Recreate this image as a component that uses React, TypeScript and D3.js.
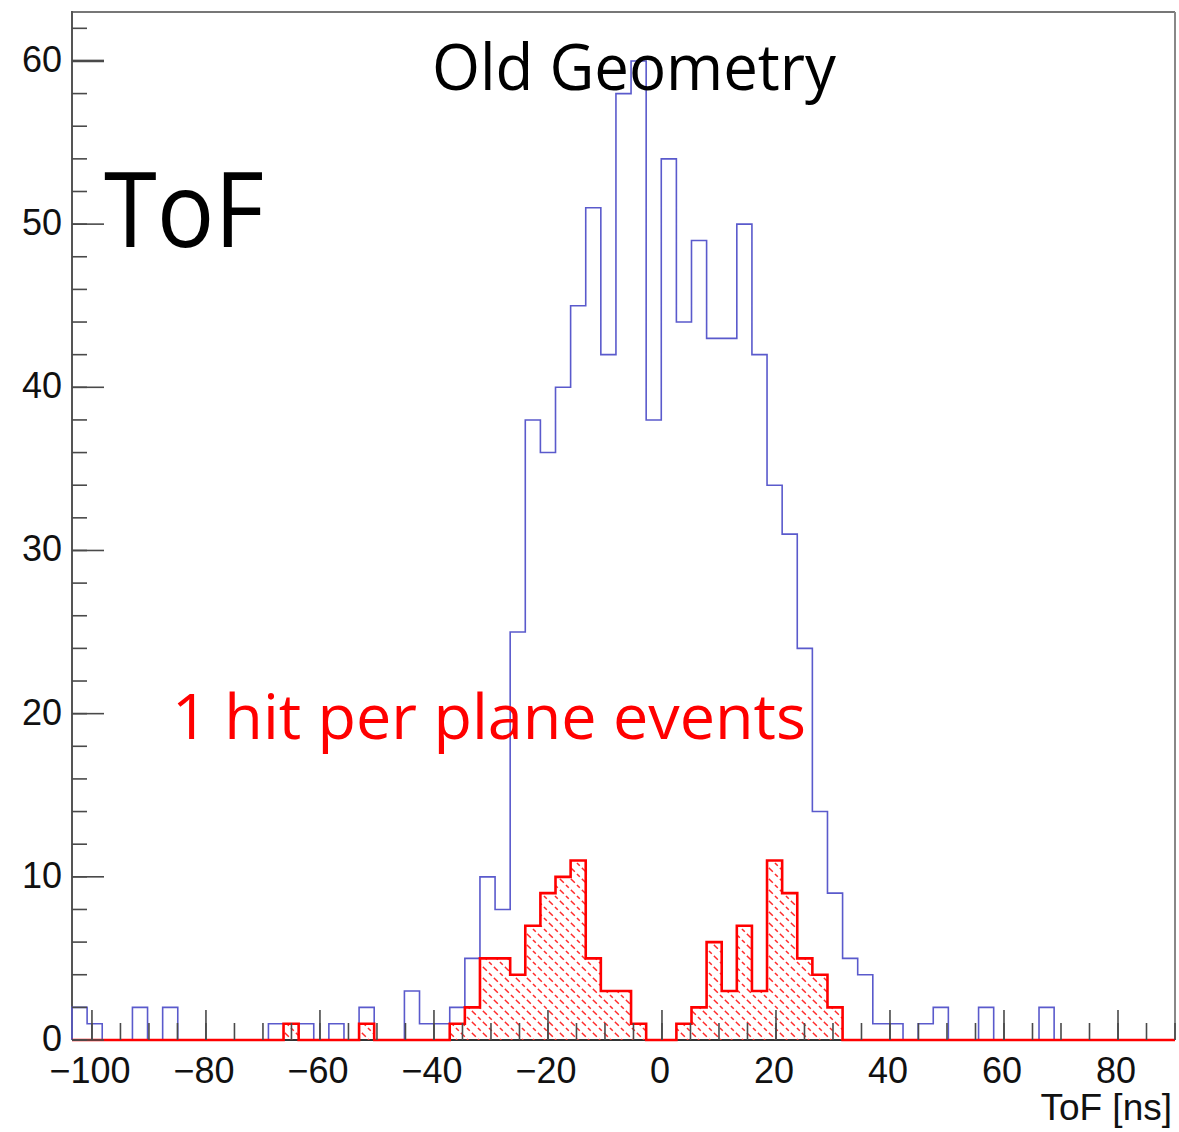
import React from "react";
import * as d3 from "d3";

// Histogram binning of the time-of-flight axis
const BIN_LOW = -103.5;
const BIN_HIGH = 90;
const BIN_COUNT = 73;

// Counts per bin: all events (blue outline)
const allEvents = [
  2, 1, 0, 0, 2, 0, 2, 0, 0, 0,
  0, 0, 0, 1, 1, 1, 0, 1, 0, 2,
  0, 0, 3, 1, 1, 2, 5, 10, 8, 25,
  38, 36, 40, 45, 51, 42, 58, 60, 38, 54,
  44, 49, 43, 43, 50, 42, 34, 31, 24, 14,
  9, 5, 4, 1, 1, 0, 1, 2, 0, 0,
  2, 0, 0, 0, 2, 0, 0, 0, 0, 0,
  0, 0, 0,
];

// Counts per bin: events with one hit per plane (red hatched)
const oneHitEvents = [
  0, 0, 0, 0, 0, 0, 0, 0, 0, 0,
  0, 0, 0, 0, 1, 0, 0, 0, 0, 1,
  0, 0, 0, 0, 0, 1, 2, 5, 5, 4,
  7, 9, 10, 11, 5, 3, 3, 1, 0, 0,
  1, 2, 6, 3, 7, 3, 11, 9, 5, 4,
  2, 0, 0, 0, 0, 0, 0, 0, 0, 0,
  0, 0, 0, 0, 0, 0, 0, 0, 0, 0,
  0, 0, 0,
];

const xMajorTicks = [-100, -80, -60, -40, -20, 0, 20, 40, 60, 80];
const xMinorTicks = d3.range(-100, 90.001, 5);
const yMajorTicks = [0, 10, 20, 30, 40, 50, 60];
const yMinorTicks = d3.range(0, 63, 2);
const Y_MAX = 63;

const xTitle = "ToF [ns]";
const plotTitle = "Old Geometry";
const bigLabel = "ToF";
const selectionLabel = "1 hit per plane events";

const W = 1179;
const H = 1132;
const frame = { left: 72, right: 1175, top: 12, bottom: 1040 };

const x = d3.scaleLinear().domain([BIN_LOW, BIN_HIGH]).range([frame.left, frame.right]);
const y = d3.scaleLinear().domain([0, Y_MAX]).range([frame.bottom, frame.top]);
const binWidth = (BIN_HIGH - BIN_LOW) / BIN_COUNT;

function stepPoints(values: number[]): [number, number][] {
  const pts: [number, number][] = [[x(BIN_LOW), y(0)]];
  values.forEach((v, i) => {
    const a = BIN_LOW + i * binWidth;
    const b = a + binWidth;
    pts.push([x(a), y(v)]);
    pts.push([x(b), y(v)]);
  });
  pts.push([x(BIN_HIGH), y(0)]);
  return pts;
}

const line = d3.line<[number, number]>().x((d) => d[0]).y((d) => d[1]);

const fmt = (v: number) => (v < 0 ? "\u2212" + Math.abs(v) : String(v));

export default function App() {
  const bluePath = line(stepPoints(allEvents)) || "";
  const redPts = stepPoints(oneHitEvents);
  const redPath = line(redPts) || "";
  const redFill = (line(redPts) || "") + "Z";

  const tickColor = "#4a4a4a";
  const labelFont = "'Liberation Sans', Arial, Helvetica, sans-serif";
  const textFont = "'Open Sans', 'Noto Sans', sans-serif";
  const hatchDash = "4 3";

  return (
    <svg
      width={W}
      height={H}
      viewBox={`0 0 ${W} ${H}`}
      style={{ position: "absolute", left: 0, top: 0, background: "#fff" }}
    >
      <defs>
        <pattern id="hatch" width="11" height="11" patternUnits="userSpaceOnUse">
          <line x1="0" y1="0" x2="11" y2="11" stroke="#ff2a2a" strokeWidth="1.5" strokeDasharray={hatchDash} />
          <line x1="-5.5" y1="5.5" x2="5.5" y2="16.5" stroke="#ff2a2a" strokeWidth="1.5" strokeDasharray={hatchDash} />
          <line x1="5.5" y1="-5.5" x2="16.5" y2="5.5" stroke="#ff2a2a" strokeWidth="1.5" strokeDasharray={hatchDash} />
        </pattern>
      </defs>

      {/* frame */}
      <line x1={frame.left} y1={frame.top} x2={frame.right} y2={frame.top} stroke="#777" strokeWidth={2} />
      <line x1={frame.right} y1={frame.top} x2={frame.right} y2={frame.bottom} stroke="#888" strokeWidth={2} />
      <line x1={frame.left} y1={frame.top - 1} x2={frame.left} y2={frame.bottom} stroke="#555" strokeWidth={2} />
      <line x1={frame.left} y1={frame.bottom} x2={frame.right} y2={frame.bottom} stroke="#333" strokeWidth={2} />

      {/* all events */}
      <path d={bluePath} fill="none" stroke="#5a5acc" strokeWidth={1.6} />

      {/* one-hit-per-plane events */}
      <path d={redFill} fill="url(#hatch)" stroke="none" />
      <path d={redPath} fill="none" stroke="#ff0000" strokeWidth={2.6} />

      {/* x ticks, drawn inward from the bottom axis */}
      {xMinorTicks.map((t) => (
        <line key={"xm" + t} x1={x(t)} x2={x(t)} y1={frame.bottom} y2={frame.bottom - 17} stroke={tickColor} strokeWidth={1.6} />
      ))}
      {xMajorTicks.map((t) => (
        <line key={"xM" + t} x1={x(t)} x2={x(t)} y1={frame.bottom} y2={frame.bottom - 30} stroke={tickColor} strokeWidth={1.6} />
      ))}

      {/* y ticks */}
      {yMinorTicks.map((t) => (
        <line key={"ym" + t} x1={frame.left} x2={frame.left + 15} y1={y(t)} y2={y(t)} stroke={tickColor} strokeWidth={1.6} />
      ))}
      {yMajorTicks.map((t) => (
        <line key={"yM" + t} x1={frame.left} x2={frame.left + 32} y1={y(t)} y2={y(t)} stroke={tickColor} strokeWidth={t === 60 ? 2.6 : 1.6} />
      ))}

      {/* tick labels */}
      {xMajorTicks.map((t) => (
        <text key={"xl" + t} x={x(t) - 2} y={1083} textAnchor="middle" fontFamily={labelFont} fontSize={36} fill="#111">
          {fmt(t)}
        </text>
      ))}
      {yMajorTicks.map((t) => (
        <text key={"yl" + t} x={62} y={y(t) + 11} textAnchor="end" fontFamily={labelFont} fontSize={36} fill="#111">
          {fmt(t)}
        </text>
      ))}

      {/* axis title */}
      <text x={1172} y={1120} textAnchor="end" fontFamily={labelFont} fontSize={37} fill="#111">
        {xTitle}
      </text>

      {/* annotations */}
      <text x={432} y={90} fontFamily={textFont} fontSize={64} fill="#000" textLength={404} lengthAdjust="spacingAndGlyphs">
        {plotTitle}
      </text>
      <text x={104} y={247} fontFamily={textFont} fontSize={104} fill="#000" textLength={160} lengthAdjust="spacingAndGlyphs">
        {bigLabel}
      </text>
      <text x={172} y={739} fontFamily={textFont} fontSize={62} fill="#ff0000" textLength={634} lengthAdjust="spacingAndGlyphs">
        {selectionLabel}
      </text>
    </svg>
  );
}
